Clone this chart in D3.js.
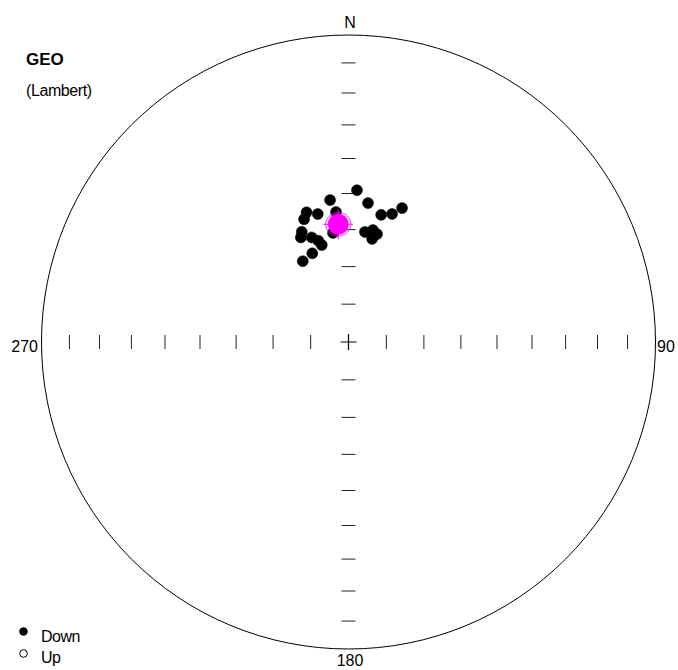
<!DOCTYPE html>
<html>
<head>
<meta charset="utf-8">
<script src="https://cdn.jsdelivr.net/npm/d3@7"></script>
<style>
  body { margin: 0; background: #fff; }
  svg { display: block; }
  text { font-family: "Liberation Sans", Arial, sans-serif; fill: #000; }
</style>
</head>
<body>
<svg id="chart" width="678" height="670"></svg>
<script>
// Site directions, geographic coordinates (declination / inclination, degrees)
const declinations = [3.2, 8.0, 21.8, 18.8, 14.4, 352.6, 354.5, 346.5, 342.1, 340.1, 337.0,
                      335.5, 340.6, 343.4, 344.6, 337.8, 330.5, 8.5, 12.3, 14.8, 12.9, 351.9];
const inclinations = [49.0, 52.3, 51.2, 53.7, 54.8, 51.5, 55.0, 54.7, 53.4, 55.0, 58.0,
                      59.3, 60.4, 61.8, 63.2, 64.5, 65.3, 60.3, 59.4, 60.2, 61.8, 60.6];

// Fisher mean direction and its 95% confidence cone
const meanDec = 355.0;
const meanInc = 58.4;
const alpha95 = 3.2;

// Inclination ticks along the four cardinal axes
const tickInclinations = [10, 20, 30, 40, 50, 60, 70, 80];
const axisDeclinations = [0, 90, 180, 270];
const axisLabels = ["N", "90", "180", "270"];

const plotTitle = "GEO";
const plotSubtitle = "(Lambert)";
const legendLabels = ["Down", "Up"];

const cx = 348.5, cy = 342, R = 307;

// Lower-hemisphere equal-area net, centred on the vertical; declination clockwise from north
const proj = d3.geoAzimuthalEqualArea()
  .rotate([0, -90])
  .scale(R / Math.SQRT2)
  .translate([cx, cy])
  .clipAngle(90);
const toLonLat = (dec, inc) => [180 - dec, inc];
const place = (dec, inc) => proj(toLonLat(dec, inc));

const svg = d3.select("#chart");

// primitive circle
svg.append("circle")
  .attr("cx", cx).attr("cy", cy).attr("r", R)
  .attr("fill", "none").attr("stroke", "#000").attr("stroke-width", 1);

// axis ticks
const tickLen = 7;
const ticks = [];
axisDeclinations.forEach(dec => tickInclinations.forEach(inc => ticks.push({dec, inc})));
svg.append("g").selectAll("line").data(ticks).join("line")
  .each(function (d) {
    const [x, y] = place(d.dec, d.inc);
    const vertical = d.dec === 90 || d.dec === 270;
    d3.select(this)
      .attr("x1", vertical ? x : x - tickLen).attr("x2", vertical ? x : x + tickLen)
      .attr("y1", vertical ? y - tickLen : y).attr("y2", vertical ? y + tickLen : y);
  })
  .attr("stroke", "#222").attr("stroke-width", 1);

// centre cross
const [c0x, c0y] = place(0, 90);
svg.append("path")
  .attr("d", `M${c0x - 8},${c0y}H${c0x + 8}M${c0x},${c0y - 8}V${c0y + 8}`)
  .attr("stroke", "#000").attr("stroke-width", 1.2);

// cardinal labels
const labelPos = [
  {x: cx + 1.5, y: 28, anchor: "middle"},
  {x: 657, y: 352, anchor: "start"},
  {x: cx + 1.5, y: 666, anchor: "middle"},
  {x: 38, y: 352, anchor: "end"}
];
svg.append("g").selectAll("text").data(axisLabels).join("text")
  .attr("x", (d, i) => labelPos[i].x)
  .attr("y", (d, i) => labelPos[i].y)
  .attr("text-anchor", (d, i) => labelPos[i].anchor)
  .attr("font-size", 16)
  .text(d => d);

// site directions (all lower hemisphere: filled)
const sites = declinations.map((dec, i) => ({dec, inc: inclinations[i]}));
svg.append("g").selectAll("circle").data(sites).join("circle")
  .attr("cx", d => place(d.dec, d.inc)[0])
  .attr("cy", d => place(d.dec, d.inc)[1])
  .attr("r", 5.5)
  .attr("fill", d => d.inc >= 0 ? "#000" : "#fff")
  .attr("stroke", "#000").attr("stroke-width", 0.5);

// mean direction with confidence cone
const meanG = svg.append("g");
const cone = d3.geoCircle().center(toLonLat(meanDec, meanInc)).radius(alpha95)();
meanG.append("path")
  .attr("d", d3.geoPath(proj)(cone))
  .attr("fill", "none").attr("stroke", "#ff00ff").attr("stroke-width", 1);
const [mx, my] = place(meanDec, meanInc);
meanG.append("circle")
  .attr("cx", mx).attr("cy", my).attr("r", 10.5)
  .attr("fill", "#ff00ff");
meanG.append("path")
  .attr("d", `M${mx - 15},${my}H${mx + 15}M${mx},${my - 15}V${my + 15}`)
  .attr("stroke", "#ff00ff").attr("stroke-width", 1);

// title
svg.append("text").attr("x", 26).attr("y", 65)
  .attr("font-size", 17).attr("font-weight", "bold").text(plotTitle);
svg.append("text").attr("x", 26).attr("y", 96)
  .attr("font-size", 16).attr("letter-spacing", -0.4).text(plotSubtitle);

// legend
const legend = svg.append("g");
legend.selectAll("circle").data(legendLabels).join("circle")
  .attr("cx", 23.5).attr("cy", (d, i) => 631.5 + i * 22)
  .attr("r", 3.8)
  .attr("fill", (d, i) => i === 0 ? "#000" : "#fff")
  .attr("stroke", "#000").attr("stroke-width", 1);
legend.selectAll("text").data(legendLabels).join("text")
  .attr("x", 41).attr("y", (d, i) => 642 + i * 20.5)
  .attr("font-size", 16).attr("letter-spacing", -0.5)
  .text(d => d);
</script>
</body>
</html>
